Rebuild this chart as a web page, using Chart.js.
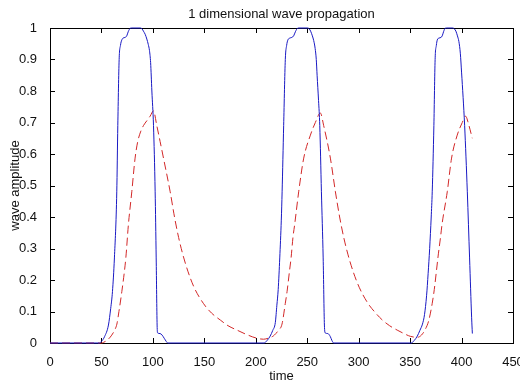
<!DOCTYPE html>
<html>
<head>
<meta charset="utf-8">
<script src="https://cdn.jsdelivr.net/npm/chart.js@4/dist/chart.umd.min.js"></script>
<style>
  body { margin: 0; background: #fff; }
</style>
</head>
<body>
<canvas id="wave" width="520" height="384"></canvas>
<script>
// blue solid line
const blueTime = [
  0, 48, 50, 53, 56.8, 59, 60.7, 62.6, 64.9, 65.9, 67.2, 68.5, 69.8, 71, 73, 74.6, 76, 77.9, 79, 88,
  89.5, 90.8, 92.5, 94.1, 95.5, 96.7, 97.8, 99, 100.6, 102.2, 103.2, 104.1, 104.6, 107, 109, 111, 113, 114.5,
  208, 211, 214, 216.5, 219, 220.5, 221.8, 223.3, 224.8, 225.6, 227.1, 228.7, 230, 231.2, 233, 235, 236.8,
  238.5, 240.5, 242, 250.5, 252, 253.3, 255, 256.3, 257.7, 258.8, 259.6, 261, 262.2, 263.8, 265.5, 266.7,
  267.5, 270, 272.5, 274, 275.7,
  351, 354, 357, 359.5, 362, 364, 366, 367.5, 369, 370.5, 371.5, 373.1, 374.3, 375.5, 376.4, 378, 380, 381.2,
  382.5, 384, 385.5, 391.5, 393, 394.5, 396, 397.4, 398.8, 400, 401.5, 403, 405.6, 407.8, 409.8, 410.5
];
const blueAmp = [
  0, 0, 0.005, 0.02, 0.057, 0.11, 0.163, 0.27, 0.48, 0.69, 0.9, 0.945, 0.962, 0.968, 0.97, 0.975, 0.988, 0.999, 1, 1,
  0.997, 0.99, 0.98, 0.965, 0.948, 0.928, 0.89, 0.8, 0.69, 0.48, 0.27, 0.057, 0.032, 0.03, 0.025, 0.015, 0.005, 0,
  0, 0.008, 0.022, 0.04, 0.065, 0.12, 0.17, 0.27, 0.39, 0.48, 0.69, 0.9, 0.945, 0.962, 0.968, 0.97, 0.975,
  0.988, 0.999, 1, 1, 0.997, 0.99, 0.975, 0.96, 0.935, 0.9, 0.85, 0.77, 0.69, 0.48, 0.27, 0.057,
  0.032, 0.03, 0.02, 0.008, 0,
  0, 0.008, 0.022, 0.04, 0.06, 0.09, 0.15, 0.22, 0.3, 0.4, 0.48, 0.69, 0.9, 0.945, 0.962, 0.968, 0.97, 0.975,
  0.988, 0.999, 1, 1, 0.997, 0.99, 0.975, 0.957, 0.92, 0.86, 0.78, 0.69, 0.48, 0.27, 0.08, 0.03
];

// red dashed line
const redTime = [
  0, 50, 52, 56, 60, 63, 65, 67, 69.8, 73.7, 76.2, 79.5, 82.7, 85.3, 88, 90.8, 94, 97.3, 100.6,
  103.8, 107, 110.3, 116.8, 121, 125, 129, 134, 140, 149, 157, 165.5, 173, 181.7, 191, 201.2,
  207.6, 212, 216, 218, 222, 225.5, 228.7, 230.4, 232.9, 234.3, 236.2, 237.8, 241.7, 246.6, 253.1, 257.9, 262.8,
  266, 272.5, 277.4, 281.5, 285.5, 289.5, 294.5, 300.5, 309, 316, 323, 330, 337.4, 344, 350.4,
  356.9, 361, 365, 368, 371.5, 373.5, 375.7, 377, 379.6, 381, 386.1, 390.3, 395.8, 400.7, 403.9, 407.2, 410.4
];
const redAmp = [
  0, 0, 0.002, 0.01, 0.025, 0.042, 0.06, 0.1, 0.163, 0.27, 0.376, 0.48, 0.587, 0.64, 0.67, 0.69, 0.705, 0.72, 0.737,
  0.69, 0.64, 0.587, 0.48, 0.4, 0.335, 0.282, 0.228, 0.177, 0.126, 0.095, 0.073, 0.055, 0.041, 0.027, 0.015,
  0.012, 0.015, 0.02, 0.025, 0.04, 0.06, 0.126, 0.163, 0.232, 0.27, 0.337, 0.376, 0.48, 0.587, 0.66, 0.7, 0.73,
  0.69, 0.587, 0.48, 0.4, 0.335, 0.282, 0.228, 0.177, 0.126, 0.097, 0.073, 0.055, 0.041, 0.03, 0.021,
  0.018, 0.025, 0.045, 0.07, 0.126, 0.17, 0.232, 0.27, 0.337, 0.376, 0.48, 0.587, 0.66, 0.7, 0.72, 0.69, 0.65
];

const xTicks = [0, 50, 100, 150, 200, 250, 300, 350, 400, 450];
const yTicks = [0, 0.1, 0.2, 0.3, 0.4, 0.5, 0.6, 0.7, 0.8, 0.9, 1];

const FONT = { family: '"Liberation Sans", Arial, sans-serif', size: 13 };

/**
 * Zip two arrays into {x, y} points.
 *
 * @param {array} xs
 * @param {array} ys
 */
const toPoints = (xs, ys) => xs.map((x, i) => ({ x, y: ys[i] }));

// box round the plot with ticks pointing inwards, like matlab
const boxTicks = {
  id: 'boxTicks',
  beforeDatasetsDraw(chart) {
    const { ctx, chartArea: a, scales: { x, y } } = chart;
    const len = 5;
    ctx.save();
    ctx.strokeStyle = '#000';
    ctx.lineWidth = 1;
    ctx.beginPath();
    x.ticks.forEach((t) => {
      const px = Math.round(x.getPixelForValue(t.value)) + 0.5;
      ctx.moveTo(px, a.bottom);
      ctx.lineTo(px, a.bottom - len);
      ctx.moveTo(px, a.top);
      ctx.lineTo(px, a.top + len);
    });
    y.ticks.forEach((t) => {
      const py = Math.round(y.getPixelForValue(t.value)) + 0.5;
      ctx.moveTo(a.left, py);
      ctx.lineTo(a.left + len, py);
      ctx.moveTo(a.right, py);
      ctx.lineTo(a.right - len, py);
    });
    ctx.stroke();
    ctx.strokeRect(Math.round(a.left) + 0.5, Math.round(a.top) + 0.5,
      Math.round(a.right - a.left), Math.round(a.bottom - a.top));
    ctx.restore();
  }
};

const ctx = document.getElementById('wave').getContext('2d');

// eslint-disable-next-line no-undef
new Chart(ctx, {
  type: 'line',
  data: {
    datasets: [
      {
        label: 'blue',
        data: toPoints(blueTime, blueAmp),
        borderColor: 'rgb(25, 25, 195)',
        borderWidth: 1,
        pointRadius: 0,
        cubicInterpolationMode: 'monotone',
        clip: false,
      },
      {
        label: 'red',
        data: toPoints(redTime, redAmp),
        borderColor: 'rgb(210, 40, 40)',
        borderWidth: 1,
        borderDash: [8, 4],
        pointRadius: 0,
        cubicInterpolationMode: 'monotone',
        clip: false,
      }
    ],
  },
  options: {
    responsive: false,
    animation: false,
    layout: { padding: { left: 0, right: 7, top: 0, bottom: 0 } },
    plugins: {
      legend: { display: false },
      tooltip: { enabled: false },
      title: {
        display: true,
        text: '1 dimensional wave propagation',
        color: '#111',
        font: { ...FONT, weight: 'normal' },
        fullSize: false,
        padding: { top: 7, bottom: 5.4 }
      }
    },
    scales: {
      x: {
        type: 'linear',
        min: 0,
        max: 450,
        grid: { display: false },
        border: { display: false },
        afterBuildTicks: (scale) => { scale.ticks = xTicks.map((v) => ({ value: v })); },
        afterFit: (scale) => {
          scale.height = 41;
          scale.paddingLeft = 0;
          scale.paddingRight = 0;
        },
        ticks: { color: '#111', font: FONT, padding: 4, maxRotation: 0, autoSkip: false, callback: (v) => String(v) },
        title: { display: true, text: 'time', color: '#111', font: FONT, padding: { top: 0, bottom: 0 } }
      },
      y: {
        min: 0,
        max: 1,
        grid: { display: false },
        border: { display: false },
        afterBuildTicks: (scale) => { scale.ticks = yTicks.map((v) => ({ value: v })); },
        afterFit: (scale) => {
          scale.width = 50;
          scale.paddingTop = 0;
          scale.paddingBottom = 0;
        },
        ticks: { color: '#111', font: FONT, padding: 5, autoSkip: false, callback: (v) => String(v) },
        title: { display: true, text: 'wave amplitude', color: '#111', font: FONT, padding: { top: 8, bottom: 0 } }
      }
    }
  },
  plugins: [boxTicks]
});
</script>
</body>
</html>
